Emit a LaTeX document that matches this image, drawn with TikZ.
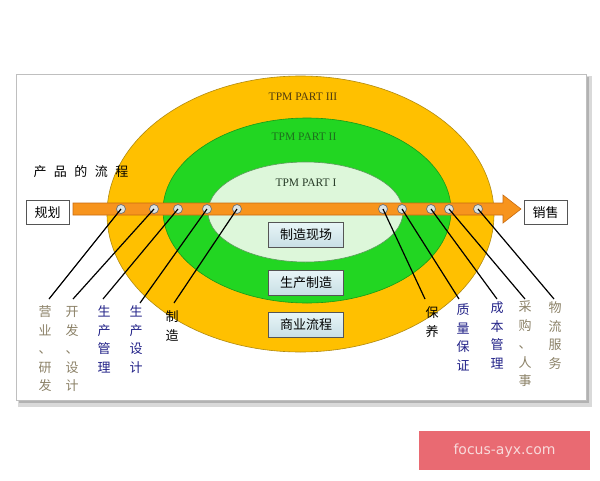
\documentclass[tikz,border=0pt]{standalone}
\usepackage{fontspec}
\setmainfont{Liberation Serif}
\newfontfamily\cjk{Noto Sans CJK SC}
\newfontfamily\wmfont{DejaVu Sans}
\definecolor{outerc}{HTML}{FFC000}
\definecolor{outerl}{HTML}{B08A10}
\definecolor{greenc}{HTML}{22D622}
\definecolor{greenl}{HTML}{189A18}
\definecolor{innerc}{HTML}{DDF7DA}
\definecolor{innerl}{HTML}{5A9A5A}
\definecolor{arrowc}{HTML}{F7941D}
\definecolor{arrowl}{HTML}{C86A10}
\definecolor{dotfill}{HTML}{DCE4E4}
\definecolor{dotline}{HTML}{707070}
\definecolor{labgray}{HTML}{8C8268}
\definecolor{labblue}{HTML}{222288}
\definecolor{boxline}{HTML}{555555}
\definecolor{boxtop}{HTML}{E8F5F7}
\definecolor{boxbot}{HTML}{C8DFE5}
\definecolor{wmred}{HTML}{E96A72}
\definecolor{wmtext}{HTML}{F8DADB}
\begin{document}
\begin{tikzpicture}[x=1pt,y=-1pt,
  lbl/.style={font=\cjk\fontsize{13}{18.5}\selectfont, align=center, inner sep=0pt},
  grayl/.style={lbl, text=labgray},
  bluel/.style={lbl, text=labblue},
  blackl/.style={lbl, text=black},
  dot/.style={circle, minimum size=9pt, inner sep=0pt, fill=dotfill, draw=dotline, line width=0.7pt},
  lead/.style={line width=1.2pt, black},
  endbox/.style={draw=boxline, fill=white, line width=0.8pt, minimum width=43pt, minimum height=24pt, inner sep=0pt, font=\cjk\fontsize{13}{13}\selectfont},
  tpmbox/.style={draw=boxline, line width=0.8pt, top color=boxtop, bottom color=boxbot, minimum width=75pt, minimum height=25pt, inner sep=0pt, font=\cjk\fontsize{13}{13}\selectfont},
  tpmtext/.style={font=\fontsize{11.5}{12}\selectfont, inner sep=0pt}
]
\useasboundingbox (0,0) rectangle (600,480);
\fill[white] (0,0) rectangle (600,480);
% panel with shadow
\fill[black!25] (20,78) rectangle (590,405);
\fill[black!15] (18,76) rectangle (592,407);
\fill[black!30] (19,77) rectangle (589,403);
\draw[black!25, fill=white, line width=0.8pt] (16,74) rectangle (586,400);
% ellipses
\draw[fill=outerc, draw=outerl, line width=0.6pt] (300.5,214) ellipse [x radius=193.5pt, y radius=138pt];
\draw[fill=greenc, draw=greenl, line width=0.6pt] (307,210.5) ellipse [x radius=144pt, y radius=92.5pt];
\draw[fill=innerc, draw=innerl, line width=0.6pt] (305.5,212) ellipse [x radius=97.5pt, y radius=50pt];
% TPM texts
\node[tpmtext, text={rgb,255:red,80;green,60;blue,15}] (t3) at (303,97) {TPM PART III};
\node[tpmtext, text={rgb,255:red,30;green,110;blue,30}] (t2) at (304,137) {TPM PART II};
\node[tpmtext, text={rgb,255:red,40;green,60;blue,40}] (t1) at (306,183) {TPM PART I};
% title
\node[blackl, font=\cjk\fontsize{13}{13}\selectfont] (title) at (81,172) {产\hspace{7.5pt}品\hspace{7.5pt}的\hspace{7.5pt}流\hspace{7.5pt}程};
% arrow
\draw[fill=arrowc, draw=arrowl, line width=0.6pt] (73,203) -- (503,203) -- (503,195) -- (521,209) -- (503,223) -- (503,215) -- (73,215) -- cycle;
% end boxes
\node[endbox] (plan) at (47.5,212.5) {规划};
\node[endbox] (sale) at (545.5,212.5) {销售};
% centre boxes
\node[tpmbox] (b1) at (306,235) {制造现场};
\node[tpmbox] (b2) at (306,282.5) {生产制造};
\node[tpmbox] (b3) at (306,325) {商业流程};
% dots
\node[dot] (c1) at (121,209) {};
\node[dot] (c2) at (154,209) {};
\node[dot] (c3) at (178,209) {};
\node[dot] (c4) at (207,209) {};
\node[dot] (c5) at (237,209) {};
\node[dot] (c6) at (383,209) {};
\node[dot] (c7) at (402,209) {};
\node[dot] (c8) at (431,209) {};
\node[dot] (c9) at (449,209) {};
\node[dot] (c10) at (478,209) {};
% leader ends
\coordinate (e1) at (49,299);
\coordinate (e2) at (73,299);
\coordinate (e3) at (103,299);
\coordinate (e4) at (140,303);
\coordinate (e5) at (174,303);
\coordinate (e6) at (425,299);
\coordinate (e7) at (459,299);
\coordinate (e8) at (497,299);
\coordinate (e9) at (525,299);
\coordinate (e10) at (554,299);
\foreach \i in {1,...,10} { \draw[lead] (c\i.center) -- (e\i); }
% labels
\node[grayl] (l1) at (45,349) {营\\业\\、\\研\\发};
\node[grayl] (l2) at (72,349) {开\\发\\、\\设\\计};
\node[bluel] (l3) at (104,339.5) {生\\产\\管\\理};
\node[bluel] (l4) at (136,339.5) {生\\产\\设\\计};
\node[blackl] (l5) at (172,326) {制\\造};
\node[blackl] (l6) at (432,322) {保\\养};
\node[bluel] (l7) at (463,337.5) {质\\量\\保\\证};
\node[bluel] (l8) at (497,335.5) {成\\本\\管\\理};
\node[grayl] (l9) at (525,344) {采\\购\\、\\人\\事};
\node[grayl] (l10) at (555,335.5) {物\\流\\服\\务};
% watermark
\node[fill=wmred, minimum width=171pt, minimum height=39pt, inner sep=0pt, text=wmtext, font=\wmfont\fontsize{14}{14}\selectfont] (wm) at (504.5,450.5) {focus-ayx.com};
\end{tikzpicture}
\end{document}
